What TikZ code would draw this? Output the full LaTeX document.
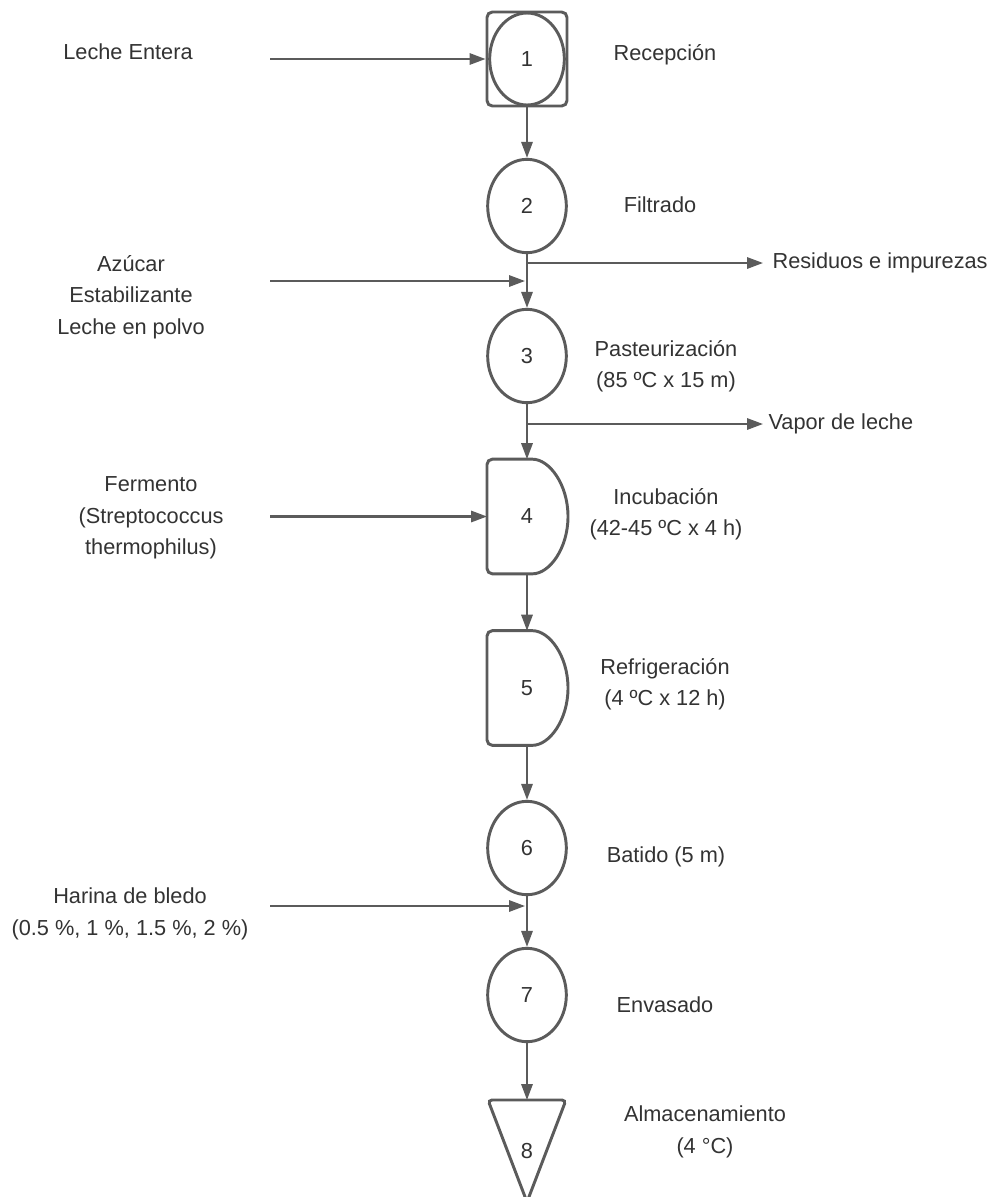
\documentclass[tikz,border=0pt]{standalone}
\usepackage{fontspec}
\setmainfont{Liberation Sans}
\usepackage{tikz}
\usetikzlibrary{shapes.geometric}
\usetikzlibrary{arrows.meta}
\definecolor{lineg}{HTML}{5B5B5B}
\definecolor{textg}{HTML}{333333}
\tikzset{% styles of the flow chart
        shp/.style={draw=lineg, line width=2.2pt},
        opcircle/.style={shp, ellipse, minimum width=59pt, minimum height=70pt, inner sep=0pt},
        opbox/.style={rectangle, minimum width=60pt, minimum height=86pt, inner sep=0pt, outer sep=0pt},
        flow/.style={draw=lineg, line width=1.6pt, -{Triangle[length=12pt,width=8.5pt]}},
        lbl/.style={align=center, inner sep=0pt}
        }

\begin{document}
\begin{tikzpicture}[x=0.75pt, y=-0.75pt, every node/.style={font=\fontsize{16.3}{23.5}\selectfont, text=textg}]
\fill[white] (0,0) rectangle (995,1197);
\useasboundingbox (0,0) rectangle (995,1197);

\node[shp, rectangle, rounded corners=4pt, minimum width=60pt, minimum height=70.5pt] (rec) at (527,59) {};
\node[opcircle, minimum width=56pt, minimum height=69pt] (reccirc) at (527,59) {1};
\node[opcircle] (fil) at (527,206) {2};
\node[opcircle] (pas) at (527,356) {3};
\node[opbox] (inc) at (527,516.5) {4};
\node[opbox] (ref) at (527,688) {5};
\node[opcircle] (bat) at (527,848) {6};
\node[opcircle] (env) at (527,995) {7};
\node[opbox, minimum width=58.5pt, minimum height=76.5pt] (alm) at (527,1151) {8};

\foreach \n in {inc,ref}
  \draw[shp, rounded corners=4pt] (\n.west) -- (\n.south west) -- (\n.south)
    arc[start angle=-90, end angle=90, x radius=30.75pt, y radius=43pt] -- (\n.north west) -- cycle;
\draw[shp, rounded corners=3pt] (alm.north) -- (alm.north east) -- (alm.south) -- (alm.north west) -- cycle;

\node[lbl] (lEntera) at (128,52) {Leche Entera};
\node[lbl] (lAzucar) at (131,297) {Azúcar\\Estabilizante\\Leche en polvo};
\node[lbl] (lFerm) at (151,518) {Fermento\\(Streptococcus\\thermophilus)};
\node[lbl] (lHarina) at (130,914) {Harina de bledo\\(0.5 \%, 1 \%, 1.5 \%, 2 \%)};

\node[lbl] (tRec) at (665,55) {Recepción};
\node[lbl] (tFil) at (660,205) {Filtrado};
\node[lbl] (tPas) at (666,366) {Pasteurización\\(85 ºC x 15 m)};
\node[lbl] (tInc) at (666,514) {Incubación\\(42-45 ºC x 4 h)};
\node[lbl] (tRef) at (665,684) {Refrigeración\\(4 ºC x 12 h)};
\node[lbl] (tBat) at (666,857) {Batido (5 m)};
\node[lbl] (tEnv) at (665,1005) {Envasado};
\node[lbl] (tAlm) at (705,1132) {Almacenamiento\\(4 °C)};
\node[lbl, anchor=west, inner xsep=7pt] (res) at (763,263) {Residuos e impurezas};
\node[lbl, anchor=west, inner xsep=4pt] (vap) at (763,424) {Vapor de leche};

\coordinate (in1) at (270,59);
\coordinate (in2) at (270,281);
\coordinate (m2) at (525,281);
\coordinate (s2) at (527,263);
\coordinate (s3) at (527,424);
\coordinate (in4) at (270,516.5);
\coordinate (in6) at (270,906);
\coordinate (m6) at (525,906);

\draw[flow] (in1) -- (rec.west);
\draw[flow] (rec) -- (fil);
\draw[flow] (fil) -- (pas);
\draw[flow] (in2) -- (m2);
\draw[flow] (s2) -- (res.west);
\draw[flow] (pas) -- (inc);
\draw[flow] (s3) -- (vap.west);
\draw[flow] (in4) -- (inc.west);
\draw[flow] (inc) -- (ref);
\draw[flow] (ref) -- (bat);
\draw[flow] (bat) -- (env);
\draw[flow] (in6) -- (m6);
\draw[flow] (env) -- (alm);
\end{tikzpicture}
\end{document}
